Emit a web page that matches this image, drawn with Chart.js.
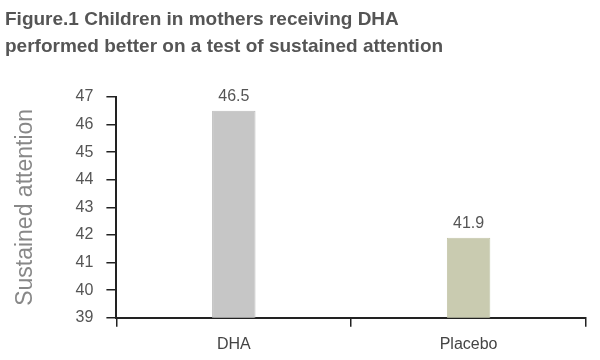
<!DOCTYPE html>
<html lang="en">
<head>
  <meta charset="UTF-8" />
  <title>Figure.1 Sustained attention</title>
  <script src="https://cdn.jsdelivr.net/npm/chart.js"></script>
  <style>
    html, body {
      margin: 0;
      padding: 0;
      background: #fff;
    }
    .chart-box {
      width: 600px;
      height: 360px;
    }
  </style>
</head>
<body>
  <div class="chart-box">
    <canvas id="attnChart"></canvas>
  </div>

  <script>
    const titleLines = [
      "Figure.1 Children in mothers receiving DHA",
      "performed better on a test of sustained attention"
    ];
    const groups = ["DHA", "Placebo"];
    const scores = [46.5, 41.9];
    const barColors = ["#c6c6c6", "#c9cbb0"];
    const barBorders = ["#bcbcbc", "#c4c6aa"];
    const yLabel = "Sustained attention";

    const FONT = "'Liberation Sans', Arial, sans-serif";

    // writes the value above each bar
    const valueLabels = {
      id: "valueLabels",
      afterDatasetsDraw(chart) {
        const ctx = chart.ctx;
        const meta = chart.getDatasetMeta(0);
        ctx.save();
        ctx.font = "16px " + FONT;
        ctx.fillStyle = "#555";
        ctx.textAlign = "center";
        ctx.textBaseline = "bottom";
        meta.data.forEach((bar, i) => {
          ctx.fillText(scores[i].toFixed(1), bar.x, bar.y - 6);
        });
        ctx.restore();
      }
    };

    new Chart(document.getElementById("attnChart"), {
      type: "bar",
      data: {
        labels: groups,
        datasets: [{
          data: scores,
          backgroundColor: barColors,
          borderColor: barBorders,
          borderWidth: 1,
          barPercentage: 0.185,
          categoryPercentage: 1
        }]
      },
      options: {
        responsive: true,
        maintainAspectRatio: false,
        animation: false,
        layout: { padding: { left: 5, right: 14, top: 6, bottom: -2 } },
        plugins: {
          legend: { display: false },
          tooltip: { enabled: false },
          title: {
            display: true,
            text: titleLines,
            align: "start",
            color: "#555",
            font: { family: FONT, size: 19, weight: "bold", lineHeight: 1.42 },
            padding: { top: 0, bottom: 37 }
          }
        },
        scales: {
          x: {
            offset: true,
            grid: {
              offset: true,
              drawOnChartArea: false,
              drawTicks: true,
              tickLength: 9,
              color: "#222",
              lineWidth: 1.5
            },
            border: { color: "#222", width: 2 },
            ticks: {
              color: "#444",
              font: { family: FONT, size: 16 },
              padding: 8
            }
          },
          y: {
            min: 39,
            max: 47,
            grid: {
              drawOnChartArea: false,
              drawTicks: true,
              tickLength: 10,
              color: "#222",
              lineWidth: 1.5
            },
            border: { color: "#222", width: 2 },
            ticks: {
              stepSize: 1,
              color: "#555",
              font: { family: FONT, size: 16 },
              padding: 13
            },
            title: {
              display: true,
              text: yLabel,
              color: "#888",
              font: { family: FONT, size: 23 },
              padding: { top: 7, bottom: 23 }
            }
          }
        }
      },
      plugins: [valueLabels]
    });
  </script>
</body>
</html>
